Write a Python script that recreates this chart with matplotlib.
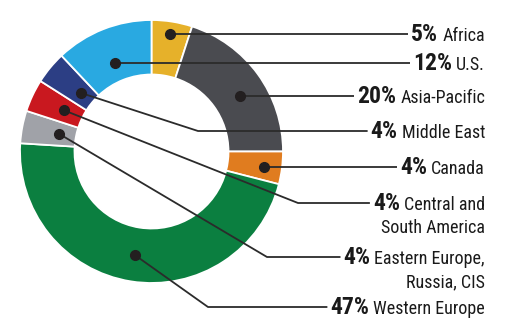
import matplotlib
matplotlib.use('Agg')
import matplotlib.pyplot as plt
from matplotlib import font_manager as fm
import numpy as np

# revenue share by region, clockwise from 12 o'clock
regions = ['Africa', 'Asia-Pacific', 'Canada', 'Western Europe',
           'Eastern Europe,\nRussia, CIS', 'Central and\nSouth America',
           'Middle East', 'U.S.']
shares = [5, 20, 4, 47, 4, 4, 4, 12]
colors = ['#e6b12a', '#4a4b50', '#e07c1f', '#0b7f40',
          '#a0a2a8', '#c9181f', '#2c3e84', '#29a9e1']

# right-hand label column, top to bottom
label_order = ['Africa', 'U.S.', 'Asia-Pacific', 'Middle East', 'Canada',
               'Central and\nSouth America', 'Eastern Europe,\nRussia, CIS',
               'Western Europe']

# layout: leader line height, elbow x (None = straight), dot distance from centre
line_y = [34, 63, 96, 131, 167, 203, 257, 307]
elbow_x = [None, None, None, 198, None, 298, 267, 208]
dot_r = {'Africa': 120, 'Asia-Pacific': 110, 'Canada': 113, 'Western Europe': 105,
         'Eastern Europe,\nRussia, CIS': 94, 'Central and\nSouth America': 97,
         'Middle East': 92, 'U.S.': 99}

available = {f.name for f in fm.fontManager.ttflist}
family = 'DejaVu Sans'
for fam in ['Roboto Condensed', 'Liberation Sans Narrow', 'DejaVu Sans']:
    if fam in available:
        family = fam
        break

W, H = 525, 335
fig = plt.figure(figsize=(W / 100, H / 100), dpi=100)
ax = fig.add_axes([0, 0, 1, 1])

cx, cy, R, ring = 151.5, 151.5, 131.5, 54.5
wedges, _ = ax.pie(shares, colors=colors, startangle=-90, counterclock=True,
                   center=(cx, cy), radius=R,
                   wedgeprops=dict(width=ring, edgecolor='white', linewidth=1.3))
ax.set_xlim(0, W)
ax.set_ylim(H, 0)
ax.set_aspect('equal')
ax.axis('off')

renderer = fig.canvas.get_renderer()
inv = ax.transData.inverted()


def left_x(t):
    bb = t.get_window_extent(renderer)
    return inv.transform((bb.x0, bb.y0))[0]


text_right = 485
line_col = '#2b2b2b'
for k, name in enumerate(label_order):
    i = regions.index(name)
    w = wedges[i]
    mid = np.deg2rad((w.theta1 + w.theta2) / 2)
    dx = cx + dot_r[name] * np.cos(mid)
    dy = cy + dot_r[name] * np.sin(mid)
    ly = line_y[k]
    if elbow_x[k] is None:
        dy = ly

    lines = name.split('\n')
    base = ly + 7
    t1 = ax.text(text_right, base, lines[0], ha='right', va='baseline',
                 family=family, fontsize=13, color='#1a1a1a')
    for j, extra in enumerate(lines[1:], start=1):
        ax.text(text_right, base + 23 * j, extra, ha='right', va='baseline',
                family=family, fontsize=13, color='#1a1a1a')
    tp = ax.text(left_x(t1) - 4, base, f'{shares[i]}%', ha='right', va='baseline',
                 family=family, fontsize=17, fontweight='bold', color='#1a1a1a')
    end = left_x(tp) - 3

    if elbow_x[k] is None:
        xs, ys = [dx, end], [dy, ly]
    else:
        xs, ys = [dx, elbow_x[k], end], [dy, ly, ly]
    ax.plot(xs, ys, color=line_col, lw=1.3, solid_capstyle='butt')
    ax.plot(dx, dy, 'o', color='#231f20', ms=7, zorder=5)

fig.savefig('out.png', dpi=100)
